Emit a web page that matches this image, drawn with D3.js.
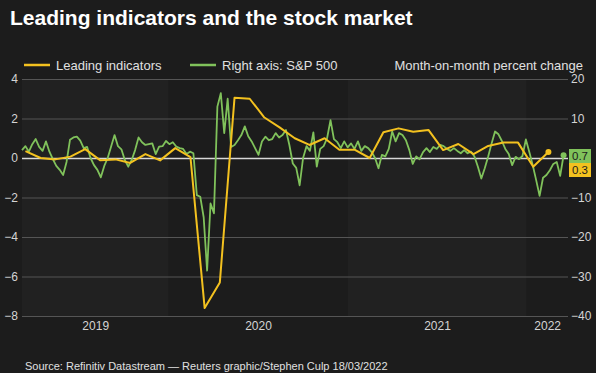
<!DOCTYPE html>
<html>
<head>
<meta charset="utf-8">
<script src="https://cdn.jsdelivr.net/npm/d3@7"></script>
<style>
  body { margin: 0; background: #1c1c1c; }
  svg { display: block; font-family: "Liberation Sans", Arial, sans-serif; }
</style>
</head>
<body>
<svg id="chart" width="596" height="373"></svg>
<script>
var leftTicks = [4, 2, 0, -2, -4, -6, -8];
var rightTicks = [20, 10, -10, -20, -30, -40];  // right 0 sits under the value boxes
var years = [2019, 2020, 2021, 2022];

// Leading indicators, monthly % change, Mar 2019 - Feb 2022
var leadingFirstMonth = "2019-03-15";
var leading = [0.35, 0.0, -0.07, 0.07, 0.45, -0.12, -0.07, -0.25, 0.2, -0.12,
  0.5, 0.05, -7.6, -6.3, 3.05, 3.0, 2.05, 1.55, 1.0, 0.66, 1.0, 0.42,
  0.42, 0.0, 1.3, 1.5, 1.33, 1.42, 0.4, 0.71, 0.2, 0.61, 0.78, 0.78,
  -0.44, 0.3];

// S&P 500 month-on-month % change, sampled weekly (right axis)
var spFirstWeek = "2019-03-08";
var sp500 = [2.0, 3.0, 1.6, 3.5, 4.8, 2.8, 1.8, 4.2, 1.6, -0.3,
  -2.0, -3.0, -4.3, -1.0, 4.6, 5.2, 5.4, 4.4, 2.5, 2.8,
  0.0, -1.8, -3.0, -4.9, -2.0, 0.0, 2.9, 5.8, 3.0, 2.2,
  -0.5, -2.2, -0.5, 2.0, 5.2, 4.0, 3.3, 3.5, 3.7, 1.0,
  2.9, 3.0, 4.3, 3.5, 4.0, 2.9, 2.5, 2.3, 1.0, 1.6,
  1.2, -9.4, -9.8, -15, -28.5, -11.5, -14, 13, 16.4, 6.3,
  15, 2.8, 3.3, 4.5, 5.8, 8.0, 5.5, 4.2, 2.5, 0.8,
  4.2, 5.4, 4.5, 4.8, 6.3, 5.2, 5.8, 7.1, 3.3, -1.4,
  -2.5, -6.9, 0.0, 3.0, 1.8, 6.5, -2.2, 2.3, 3.0, 5.0,
  9.6, 4.8, 4.0, 2.5, 4.2, 2.7, 3.7, 2.3, 4.2, 1.8,
  3.0, 2.5, 1.5, 0.0, -2.6, 0.8, 0.4, 2.3, 6.7, 4.2,
  6.3, 5.8, 4.5, 2.0, -1.5, 0.4, -0.3, 1.5, 2.5, 1.5,
  2.8, 2.3, 3.3, 3.0, 2.3, 1.8, 2.5, 1.8, 1.2, 2.0,
  1.2, 1.6, 0.4, -2.2, -5.2, -2.6, 0.4, 3.7, 6.7, 6.0,
  4.3, 2.3, 1.0, -1.8, 0.3, -0.3, 0.5, 4.7, 1.5, -1.8,
  -5.6, -9.6, -5.0, -4.3, -3.1, -1.5, -1.0, -4.5, 0.7];

var lastLabels = ["0.7", "0.3"];

var yellow = "#f3c11f";
var green = "#80c25b";

//////////////////////////////////////////////////////////////////////////////

function drawChart() {
  var svg = d3.select("#chart");
  var parse = d3.utcParse("%Y-%m-%d");

  var plotLeft = 22, plotRight = 568, plotTop = 79, plotBottom = 316;

  var x = d3.scaleUtc()
    .domain([parse("2019-03-08"), parse("2022-03-27")])
    .range([plotLeft, plotRight]);

  var yLeft = d3.scaleLinear().domain([-8, 4]).range([plotBottom, plotTop]);
  var yRight = d3.scaleLinear().domain([-40, 20]).range([plotBottom, plotTop]);

  var leadStart = parse(leadingFirstMonth);
  var leadData = leading.map(function(v, i){ return { date: d3.utcMonth.offset(leadStart, i), value: v }; });
  var spStart = parse(spFirstWeek);
  var spData = sp500.map(function(v, i){ return { date: d3.utcDay.offset(spStart, 7 * i), value: v }; });

  svg.append("rect").attr("width", 596).attr("height", 373).attr("fill", "#1c1c1c");

  // alternate year bands
  var dom = x.domain();
  var yearSpans = years.map(function(yr){
    var a = new Date(Math.max(Date.UTC(yr, 0, 1), +dom[0]));
    var b = new Date(Math.min(Date.UTC(yr + 1, 0, 1), +dom[1]));
    return { year: yr, a: a, b: b, mid: new Date((+a + +b) / 2) };
  });

  svg.selectAll(".band")
    .data(yearSpans.filter(function(d, i){ return i % 2 === 0; }))
    .enter().append("rect")
    .attr("class", "band")
    .attr("x", function(d){ return x(d.a); })
    .attr("width", function(d){ return x(d.b) - x(d.a); })
    .attr("y", plotTop)
    .attr("height", plotBottom - plotTop)
    .attr("fill", "#212121");

  // title
  svg.append("text")
    .attr("x", 10).attr("y", 25)
    .attr("fill", "#ffffff")
    .style("font-size", "21px").style("font-weight", "bold")
    .text("Leading indicators and the stock market");

  // axes
  var leftAxis = svg.append("g")
    .attr("transform", "translate(" + plotLeft + ",0)")
    .call(d3.axisLeft(yLeft).tickValues(leftTicks).tickSize(-(plotRight - plotLeft)).tickPadding(4));

  var rightAxis = svg.append("g")
    .attr("transform", "translate(" + plotRight + ",0)")
    .call(d3.axisRight(yRight).tickValues(rightTicks).tickSize(0).tickPadding(3));

  var xAxis = svg.append("g")
    .attr("transform", "translate(0," + plotBottom + ")")
    .call(d3.axisBottom(x).tickValues(yearSpans.map(function(d){ return d.mid; }))
      .tickFormat(d3.utcFormat("%Y")).tickSize(0).tickPadding(5));

  [leftAxis, rightAxis, xAxis].forEach(function(g){
    g.select(".domain").remove();
    g.selectAll("text").attr("fill", "#d4d4d4").style("font-size", "12px").style("font-family", "Liberation Sans, Arial, sans-serif");
  });

  leftAxis.selectAll(".tick line")
    .attr("stroke", function(d){ return d === 0 ? "#d8d8d8" : "#555555"; })
    .attr("stroke-width", function(d){ return d === 0 ? 1.5 : 1; });

  // lines
  var spLine = d3.line()
    .x(function(d){ return x(d.date); })
    .y(function(d){ return yRight(d.value); });

  var leadLine = d3.line()
    .x(function(d){ return x(d.date); })
    .y(function(d){ return yLeft(d.value); });

  svg.append("path")
    .datum(spData)
    .attr("d", spLine)
    .attr("fill", "none")
    .attr("stroke", green)
    .attr("stroke-width", 1.8)
    .attr("stroke-linejoin", "round");

  svg.append("path")
    .datum(leadData)
    .attr("d", leadLine)
    .attr("fill", "none")
    .attr("stroke", yellow)
    .attr("stroke-width", 2)
    .attr("stroke-linejoin", "round");

  var lastSp = spData[spData.length - 1];
  var lastLead = leadData[leadData.length - 1];

  svg.append("circle").attr("cx", x(lastSp.date)).attr("cy", yRight(lastSp.value)).attr("r", 3).attr("fill", green);
  svg.append("circle").attr("cx", x(lastLead.date)).attr("cy", yLeft(lastLead.value)).attr("r", 3).attr("fill", yellow);

  // value boxes on the right
  var boxes = [
    { text: lastLabels[0], fill: green, y: 149 },
    { text: lastLabels[1], fill: yellow, y: 163 }
  ];

  var box = svg.selectAll(".valbox")
    .data(boxes)
    .enter().append("g")
    .attr("class", "valbox")
    .attr("transform", function(d){ return "translate(569," + d.y + ")"; });

  box.append("rect").attr("width", 22).attr("height", 14).attr("fill", function(d){ return d.fill; });
  box.append("text")
    .attr("x", 11).attr("y", 11)
    .attr("text-anchor", "middle")
    .attr("fill", "#1c1c1c")
    .style("font-size", "11.5px")
    .text(function(d){ return d.text; });

  // legend
  var legend = [
    { label: "Leading indicators", color: yellow, x: 24 },
    { label: "Right axis: S&P 500", color: green, x: 190 }
  ];

  var leg = svg.selectAll(".legend")
    .data(legend)
    .enter().append("g")
    .attr("class", "legend")
    .attr("transform", function(d){ return "translate(" + d.x + ",65)"; });

  leg.append("line").attr("x1", 0).attr("x2", 26).attr("stroke", function(d){ return d.color; }).attr("stroke-width", 2.5);
  leg.append("text")
    .attr("x", 32).attr("y", 4.5)
    .attr("fill", "#e0e0e0")
    .style("font-size", "13px")
    .text(function(d){ return d.label; });

  svg.append("text")
    .attr("x", 583).attr("y", 69.5)
    .attr("text-anchor", "end")
    .attr("fill", "#e0e0e0")
    .style("font-size", "13px")
    .text("Month-on-month percent change");

  svg.append("text")
    .attr("x", 25).attr("y", 370)
    .attr("fill", "#e0e0e0")
    .style("font-size", "11px")
    .text("Source: Refinitiv Datastream \u2014 Reuters graphic/Stephen Culp 18/03/2022");
}

drawChart();
</script>
</body>
</html>
